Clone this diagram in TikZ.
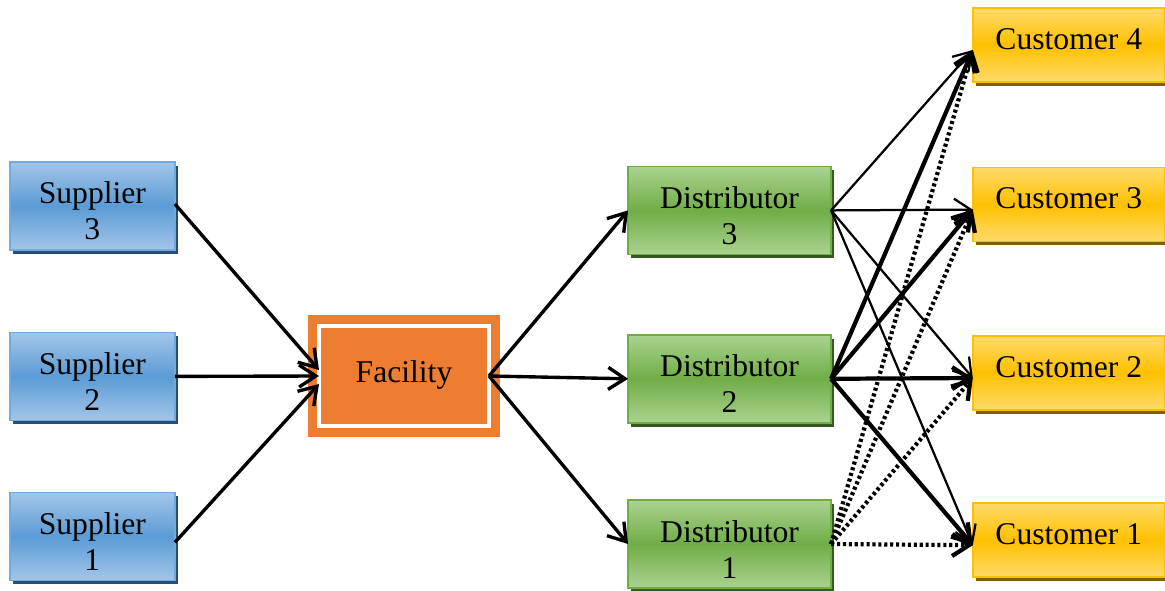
\documentclass[tikz,border=0pt]{standalone}
\usepackage{fontspec}
\setmainfont{Liberation Serif}
\usetikzlibrary{arrows.meta,shadows}

\definecolor{bluelight}{HTML}{A3C6E9}
\definecolor{bluemid}{HTML}{5B9BD5}
\definecolor{blueshadow}{HTML}{264F78}
\definecolor{greenlight}{HTML}{AAD38F}
\definecolor{greenmid}{HTML}{70AD47}
\definecolor{greenshadow}{HTML}{385A22}
\definecolor{yellowlight}{HTML}{FFDA6A}
\definecolor{yellowmid}{HTML}{FFC000}
\definecolor{yellowshadow}{HTML}{7F6000}
\definecolor{facorange}{HTML}{ED7D31}

\newcommand{\lowtop}{\rule{0pt}{0.8cm}}

\tikzset{
  box/.style={rectangle, align=center, inner sep=0pt, outer sep=0pt,
    font=\fontsize{22.5}{25.6}\selectfont, line width=1.2pt},
  supplier/.style={box, draw=bluemid!85!white, top color=bluelight, bottom color=bluelight,
    middle color=bluemid, minimum width=4.125cm, minimum height=2.2cm,
    general shadow={shadow xshift=0.08cm, shadow yshift=-0.1cm, fill=blueshadow}},
  distributor/.style={box, draw=greenmid, top color=greenlight, bottom color=greenlight,
    middle color=greenmid, minimum width=5.075cm, minimum height=2.2cm,
    general shadow={shadow xshift=0.08cm, shadow yshift=-0.1cm, fill=greenshadow}},
  customer/.style={box, draw=yellowmid, top color=yellowlight, bottom color=yellowlight,
    middle color=yellowmid, minimum width=4.8cm, minimum height=1.85cm, text depth=0.3cm,
    general shadow={shadow xshift=0.08cm, shadow yshift=-0.1cm, fill=yellowshadow}},
  facility/.style={box, fill=facorange, draw=facorange, double=white, text depth=0.2cm,
    double distance=0.1cm, line width=0.225cm, minimum width=4.25cm, minimum height=2.5cm},
  flow/.style={line width=2.4pt, -{Straight Barb[length=0.42cm,width=0.55cm]}},
}

\begin{document}
\begin{tikzpicture}
\useasboundingbox (0,0) rectangle (29.125,-14.75);

% suppliers
\node[supplier] (S3) at (2.31,-5.15) {\lowtop Supplier\\3};
\node[supplier] (S2) at (2.31,-9.41) {\lowtop Supplier\\2};
\node[supplier] (S1) at (2.31,-13.41) {\lowtop Supplier\\1};

% facility
\node[facility] (F) at (10.1,-9.4) {Facility};

% distributors
\node[distributor] (D3) at (18.24,-5.26) {\lowtop Distributor\\3};
\node[distributor] (D2) at (18.24,-9.47) {\lowtop Distributor\\2};
\node[distributor] (D1) at (18.24,-13.6) {\lowtop Distributor\\1};

% customers
\node[customer] (C4) at (26.72,-1.12) {Customer 4};
\node[customer] (C3) at (26.72,-5.11) {Customer 3};
\node[customer] (C2) at (26.72,-9.32) {Customer 2};
\node[customer] (C1) at (26.72,-13.5) {Customer 1};

% suppliers to facility
\draw[flow] ([yshift=0.05cm]S3.east) -- ([yshift=0.15cm]F.west);
\draw[flow] (S2.east) -- (F.west);
\draw[flow] ([yshift=-0.15cm]S1.east) -- ([yshift=-0.2cm]F.west);

% facility to distributors
\foreach \d in {D1,D2,D3}{
  \draw[flow] (F.east) -- (\d.west);
}

% distributors to customers
\foreach \c in {C1,C2,C3,C4}{
  \draw[flow, line width=1.6pt] (D3.east) -- ([yshift=-0.13cm]\c.west);
  \draw[flow, line width=3pt] (D2.east) -- ([yshift=-0.13cm]\c.west);
  \draw[flow, line width=3pt, dash pattern=on 2.2pt off 2pt] (D1.east) -- ([yshift=-0.13cm]\c.west);
}
\end{tikzpicture}
\end{document}
